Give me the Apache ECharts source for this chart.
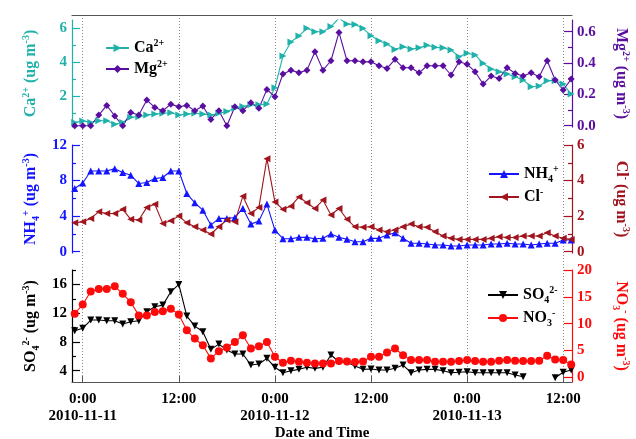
<!DOCTYPE html>
<html>
<head>
<meta charset="utf-8">
<script src="https://cdn.jsdelivr.net/npm/echarts@6/dist/echarts.min.js"></script>
<style>
  html, body { margin: 0; padding: 0; background: #fff; }
  #chart { width: 636px; height: 439px; }
</style>
</head>
<body>
<div id="chart"></div>
<script>
// hours since 2010-11-11 0:00
const hours = [-1, 0, 1, 2, 3, 4, 5, 6, 7, 8, 9, 10, 11, 12, 13, 14, 15, 16, 17, 18, 19, 20,
  21, 22, 23, 24, 25, 26, 27, 28, 29, 30, 31, 32, 33, 34, 35, 36, 37, 38, 39, 40, 41, 42,
  43, 44, 45, 46, 47, 48, 49, 50, 51, 52, 53, 54, 55, 56, 57, 58, 59, 60, 61];

const ca = [0.45, 0.55, 0.45, 0.56, 0.56, 0.35, 0.45, 0.76, 0.8, 0.9, 0.95, 1.0, 1.03, 0.9, 0.95,
  1.0, 0.95, 0.9, 1.0, 1.1, 1.3, 1.4, 1.5, 1.5, 1.55, 2.5, 4.37, 5.2, 5.55, 6.0, 5.8, 5.8, 6.1,
  6.6, 6.25, 6.23, 6.0, 5.57, 5.27, 5.08, 4.76, 4.92, 4.78, 4.85, 5.0, 4.88, 4.85, 4.72, 4.33,
  4.53, 4.43, 3.94, 3.6, 3.45, 3.31, 3.15, 2.96, 2.56, 2.6, 2.92, 2.92, 2.72, 2.13];

const mg = [0.0, 0.0, 0.0, 0.068, 0.13, 0.062, 0.0, 0.085, 0.068, 0.164, 0.117, 0.096, 0.138,
  0.121, 0.13, 0.096, 0.126, 0.04, 0.096, 0.0, 0.121, 0.096, 0.147, 0.111, 0.232, 0.185, 0.33,
  0.355, 0.338, 0.355, 0.472, 0.355, 0.415, 0.596, 0.415, 0.415, 0.408, 0.408, 0.383, 0.366,
  0.424, 0.37, 0.37, 0.338, 0.383, 0.383, 0.383, 0.324, 0.408, 0.392, 0.345, 0.266, 0.317,
  0.302, 0.37, 0.334, 0.317, 0.338, 0.313, 0.415, 0.292, 0.228, 0.298];

const nh4 = [7.1, 7.73, 9.08, 9.08, 9.08, 9.34, 8.9, 8.6, 7.66, 7.78, 8.22, 8.34, 9.08, 9.08,
  6.54, 5.49, 4.67, 2.99, 3.74, 3.74, 3.85, 4.86, 3.1, 3.44, 5.35, 2.43, 1.46, 1.46, 1.61, 1.61,
  1.46, 1.5, 1.98, 1.61, 1.39, 1.12, 1.12, 1.5, 1.5, 1.87, 2.13, 1.5, 0.94, 0.94, 0.86, 0.75,
  0.75, 0.64, 0.64, 0.75, 0.75, 0.75, 0.86, 0.86, 0.94, 0.86, 0.86, 0.75, 0.86, 0.94, 0.94,
  1.31, 1.31];

const cl = [1.62, 1.68, 1.87, 2.24, 2.15, 2.15, 2.38, 1.82, 1.78, 2.49, 2.67, 1.59, 1.74, 2.0,
  1.62, 1.4, 1.22, 0.99, 1.4, 1.78, 1.68, 3.12, 2.15, 2.49, 5.23, 2.8, 2.38, 2.56, 3.08, 2.75,
  2.43, 2.9, 2.06, 2.43, 1.82, 1.4, 1.37, 1.4, 1.22, 1.12, 1.22, 1.4, 1.55, 1.4, 1.37, 1.12,
  0.88, 0.75, 0.69, 0.69, 0.69, 0.69, 0.75, 0.84, 0.8, 0.8, 0.88, 0.88, 0.88, 1.07, 0.88,
  0.75, 0.69];

const so4 = [9.56, 9.89, 11.04, 11.04, 10.95, 10.95, 10.49, 10.8, 10.95, 12.19, 12.89, 13.12,
  14.97, 16.0, 11.6, 10.2, 9.42, 6.97, 7.7, 6.88, 6.32, 6.32, 4.79, 4.93, 5.72, 4.47, 3.72, 4.0,
  4.19, 4.47, 4.33, 4.47, 6.18, 5.25, 5.16, 4.65, 4.19, 4.24, 4.1, 4.1, 4.33, 4.79, 3.72, 4.1,
  4.19, 4.19, 4.0, 3.72, 3.78, 3.86, 3.72, 3.72, 3.72, 3.72, 3.72, 3.4, 3.17, null, null, null,
  3.03, 3.78, 4.1];

const no3 = [11.85, 13.57, 15.98, 16.48, 16.48, 16.96, 15.56, 14.0, 11.54, 11.5, 12.15, 12.33,
  12.78, 11.72, 8.76, 7.22, 5.98, 3.52, 4.87, 5.56, 6.59, 7.83, 5.37, 5.8, 6.59, 3.81, 2.7, 3.07,
  2.89, 2.7, 2.59, 2.59, 2.59, 3.02, 2.96, 2.83, 2.96, 3.81, 3.81, 4.63, 5.37, 4.13, 3.2, 3.2,
  3.2, 2.89, 2.89, 2.89, 3.02, 3.2, 3.02, 2.89, 2.89, 3.07, 3.2, 3.07, 3.02, 3.02, 3.07, 4.0,
  3.33, 3.2, 2.4];

const timeTicks = [0, 12, 24, 36, 48, 60];
const timeLabels = ['0:00\n2010-11-11', '12:00', '0:00\n2010-11-12', '12:00', '0:00\n2010-11-13', '12:00'];

const FONT = "'Liberation Serif', 'Times New Roman', serif";
const X_MIN = -1.34, X_MAX = 61.1;

const richText = {
  m: { fontSize: 16, fontWeight: 'bold', fontFamily: FONT, lineHeight: 20 },
  p: { fontSize: 10, fontWeight: 'bold', fontFamily: FONT, verticalAlign: 'top' },
  s: { fontSize: 10, fontWeight: 'bold', fontFamily: FONT, verticalAlign: 'bottom' }
};

const unit = '{m| (ug m}{p|-3}{m|)}';

const yAxes = [];
// main axis with labels + a second one that only carries the minor ticks
function addY(grid, pos, min, max, labels, minor, color, name, gap, fmt) {
  const idx = yAxes.length;
  yAxes.push({
    type: 'value', gridIndex: grid, position: pos, min: min, max: max,
    name: name, nameLocation: 'middle', nameRotate: pos === 'left' ? 90 : -90, nameGap: gap,
    nameTextStyle: { color: color, rich: richText },
    axisLine: { show: true, onZero: false, lineStyle: { color: color, width: 1.2 } },
    axisTick: { show: true, inside: true, length: 8, customValues: labels, lineStyle: { color: color, width: 1.2 } },
    axisLabel: {
      customValues: labels, color: color, fontFamily: FONT, fontWeight: 'bold', fontSize: 15, margin: 5,
      formatter: fmt
    },
    splitLine: { show: false }
  });
  yAxes.push({
    type: 'value', gridIndex: grid, position: pos, min: min, max: max,
    axisLine: { show: false, onZero: false },
    axisTick: { show: minor.length > 0, inside: true, length: 4, customValues: minor.length ? minor : [min], lineStyle: { color: color, width: 1.2 } },
    axisLabel: { show: false },
    splitLine: { show: false }
  });
  return idx;
}

const yCa = addY(0, 'left', 0.19, 6.49, [2, 4, 6], [1, 3, 5], '#20b2aa',
  '{m|Ca}{p|2+}' + unit, 31, v => v);
const yMg = addY(0, 'right', -0.008, 0.675, [0, 0.2, 0.4, 0.6], [0.1, 0.3, 0.5], '#5a0ea0',
  '{m|Mg}{p|2+}' + unit, 39, v => v.toFixed(1));
const yNh4 = addY(1, 'left', -0.15, 12, [0, 4, 8, 12], [2, 6, 10], '#1414ff',
  '{m|NH}{s|4}{p|+}' + unit, 31, v => v);
const yCl = addY(1, 'right', -0.075, 6, [0, 2, 4, 6], [1, 3, 5], '#a0141e',
  '{m|Cl}{p|-}' + unit, 39, v => v);
const ySo4 = addY(2, 'left', 2.43, 18, [4, 8, 12, 16], [6, 10, 14, 18], '#000000',
  '{m|SO}{s|4}{p|2-}' + unit, 31, v => v);
const yNo3 = addY(2, 'right', -0.88, 20, [0, 5, 10, 15, 20], [], '#ff0a0a',
  '{m|NO}{s|3}{p|-}' + unit, 39, v => v);
// overlay grid (only carries the dotted time lines and the top frame)
yAxes.push({ type: 'value', gridIndex: 3, show: false, min: 0, max: 1 });

const hiddenX = (g) => ({
  type: 'value', gridIndex: g, min: X_MIN, max: X_MAX, show: false,
  axisLine: { onZero: false }
});

const xAxes = [
  hiddenX(0),
  hiddenX(1),
  {
    type: 'value', gridIndex: 2, min: X_MIN, max: X_MAX, position: 'bottom',
    name: 'Date and Time', nameLocation: 'middle', nameGap: 43,
    nameTextStyle: { color: '#000', fontFamily: FONT, fontWeight: 'bold', fontSize: 15 },
    axisLine: { show: true, onZero: false, lineStyle: { color: '#555', width: 1.2 } },
    axisTick: { show: true, inside: true, length: 6, customValues: timeTicks, lineStyle: { color: '#555' } },
    axisLabel: {
      customValues: timeTicks, color: '#000', fontFamily: FONT, fontWeight: 'bold', fontSize: 15,
      lineHeight: 17, margin: 9,
      formatter: v => timeLabels[timeTicks.indexOf(v)]
    },
    splitLine: { show: false }
  },
  {
    type: 'value', gridIndex: 3, min: X_MIN, max: X_MAX, position: 'top',
    axisLine: { show: true, onZero: false, lineStyle: { color: '#555', width: 1.2 } },
    axisTick: { show: false, customValues: timeTicks },
    axisLabel: { show: false, customValues: timeTicks },
    splitLine: { show: true, lineStyle: { color: '#888', type: [1, 2], width: 1 } }
  }
];

const pairs = (vals) => hours.map((h, i) => [h, vals[i]]);

function line(name, grid, yIdx, vals, color, symbol, rot, size) {
  return {
    name: name, type: 'line', xAxisIndex: grid, yAxisIndex: yIdx, data: pairs(vals),
    color: color, symbol: symbol, symbolRotate: rot, symbolSize: size,
    lineStyle: { width: 1.1, color: color }, itemStyle: { color: color },
    showAllSymbol: true, animation: false
  };
}

const legendNames = {
  'Ca': '{m|Ca}{p|2+}', 'Mg': '{m|Mg}{p|2+}',
  'NH4': '{m|NH}{s|4}{p|+}', 'Cl': '{m|Cl}{p|-}',
  'SO4': '{m|SO}{s|4}{p|2-}', 'NO3': '{m|NO}{s|3}{p|-}'
};

function legend(names, left, top, width) {
  return {
    data: names, left: left, top: top, orient: 'vertical', itemGap: 3,
    itemWidth: width, itemHeight: 10,
    formatter: n => legendNames[n],
    textStyle: { color: '#000', rich: richText }
  };
}

// fixed plot boxes: keep names/labels from shrinking them
const box = (top, height) => ({ left: 72, width: 500, top: top, height: height, outerBoundsMode: 'none', containLabel: false });

const chart = echarts.init(document.getElementById('chart'));
chart.setOption({
  animation: false,
  grid: [box(20, 107), box(145, 108), box(270, 112), box(15, 367)],
  legend: [
    legend(['Ca', 'Mg'], 100, 33, 23),
    legend(['NH4', 'Cl'], 483, 159, 30),
    legend(['SO4', 'NO3'], 482, 280, 30)
  ],
  xAxis: xAxes,
  yAxis: yAxes,
  series: [
    line('Ca', 0, yCa, ca, '#20b2aa', 'triangle', -90, 7),
    line('Mg', 0, yMg, mg, '#5a0ea0', 'diamond', 0, 7),
    line('NH4', 1, yNh4, nh4, '#1414ff', 'triangle', 0, 7),
    line('Cl', 1, yCl, cl, '#a0141e', 'triangle', 90, 7),
    line('SO4', 2, ySo4, so4, '#000000', 'triangle', 180, 7),
    line('NO3', 2, yNo3, no3, '#ff0a0a', 'circle', 0, 8)
  ]
});
</script>
</body>
</html>
